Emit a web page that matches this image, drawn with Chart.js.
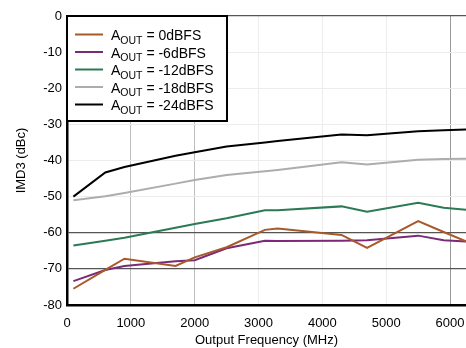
<!DOCTYPE html>
<html><head><meta charset="utf-8">
<script src="https://cdn.jsdelivr.net/npm/chart.js@4"></script>
<style>html,body{margin:0;padding:0;background:#fff}#wrap{width:466px;height:348px;position:relative}</style>
</head><body><div id="wrap"><canvas id="c" width="466" height="348"></canvas></div>
<script>
const frequencies = [100, 600, 900, 1700, 2000, 2500, 3100, 3300, 4300, 4700, 5500, 5900, 6250];
const imd3_0dBFS   = [-75.5, -70.3, -67.2, -69.2, -66.8, -64.0, -59.2, -58.8, -60.6, -64.2, -56.8, -59.8, -62.4];
const imd3_m6dBFS  = [-73.4, -70.3, -69.2, -67.9, -67.6, -64.3, -62.2, -62.3, -62.2, -62.1, -60.8, -62.1, -62.4];
const imd3_m12dBFS = [-63.5, -62.2, -61.4, -58.6, -57.6, -56.0, -53.8, -53.8, -52.7, -54.2, -51.7, -53.1, -53.6];
const imd3_m18dBFS = [-51.0, -49.9, -49.0, -46.4, -45.4, -44.0, -43.0, -42.6, -40.5, -41.1, -39.8, -39.6, -39.5];
const imd3_m24dBFS = [-50.0, -43.3, -41.8, -38.7, -37.7, -36.1, -35.0, -34.6, -32.8, -33.0, -31.9, -31.6, -31.4];
const seriesLabels = ['0dBFS', '-6dBFS', '-12dBFS', '-18dBFS', '-24dBFS'];
const xTickValues = [0, 1000, 2000, 3000, 4000, 5000, 6000];
const yTickValues = [0, -10, -20, -30, -40, -50, -60, -70, -80];

const seriesValues = [imd3_0dBFS, imd3_m6dBFS, imd3_m12dBFS, imd3_m18dBFS, imd3_m24dBFS];
const seriesColors = ['#a8592a', '#7a2a78', '#2b7a55', '#adadad', '#000000'];

const datasets = seriesValues.map((vals, i) => ({
  label: seriesLabels[i],
  data: frequencies.map((f, j) => ({x: f, y: vals[j]})),
  borderColor: seriesColors[i],
  backgroundColor: seriesColors[i],
  borderWidth: 2,
  pointRadius: 0,
  tension: 0,
  fill: false
}));

const legendPlugin = {
  id: 'boxLegend',
  afterDraw(chart) {
    const ctx = chart.ctx, a = chart.chartArea;
    const x0 = a.left, y0 = a.top, w = 160, h = 105;
    ctx.save();
    ctx.fillStyle = '#fff';
    ctx.fillRect(x0, y0, w, h);
    ctx.strokeStyle = '#000';
    ctx.lineWidth = 2;
    ctx.strokeRect(x0, y0, w, h);
    chart.data.datasets.forEach((ds, i) => {
      const y = y0 + 18.5 + i * 17.5;
      ctx.strokeStyle = ds.borderColor;
      ctx.lineWidth = 2;
      ctx.beginPath();
      ctx.moveTo(x0 + 8, y);
      ctx.lineTo(x0 + 36, y);
      ctx.stroke();
      ctx.fillStyle = '#000';
      ctx.textBaseline = 'alphabetic';
      ctx.font = '14px "Liberation Sans", Arial, sans-serif';
      let tx = x0 + 44;
      ctx.fillText('A', tx, y + 5.5);
      tx += ctx.measureText('A').width;
      ctx.font = '10.5px "Liberation Sans", Arial, sans-serif';
      ctx.fillText('OUT', tx, y + 9);
      tx += ctx.measureText('OUT').width;
      ctx.font = '14px "Liberation Sans", Arial, sans-serif';
      ctx.fillText(' = ' + ds.label, tx, y + 5.5);
    });
    ctx.restore();
  }
};

const font = {family: '"Liberation Sans", Arial, sans-serif', size: 13};

new Chart(document.getElementById('c'), {
  type: 'line',
  data: {datasets},
  options: {
    responsive: false,
    devicePixelRatio: 1,
    animation: false,
    layout: {padding: {top: 16, right: 0, left: 0, bottom: 0}},
    plugins: {legend: {display: false}, tooltip: {enabled: false}},
    scales: {
      x: {
        type: 'linear', min: 0, max: 6250,
        afterBuildTicks: s => { s.ticks = xTickValues.map(v => ({value: v})); },
        afterFit: s => { s.height = 43; s.paddingRight = 0; s.paddingLeft = 0; },
        ticks: {color: '#000', font, padding: 11, maxRotation: 0, callback: v => String(v)},
        grid: {
          drawTicks: false,
          color: c => { const v = c.tick && c.tick.value; if (v === 1000 || v === 2000) return '#bdbdbd'; if (v === 6000) return '#9a9a9a'; return '#ececec'; },
          lineWidth: 1
        },
        border: {color: '#000', width: 2.5},
        title: {display: true, text: 'Output Frequency (MHz)', color: '#000', font, padding: {top: 0, bottom: 0}}
      },
      y: {
        min: -80, max: 0,
        afterBuildTicks: s => { s.ticks = yTickValues.map(v => ({value: v})); },
        afterFit: s => { s.width = 67; },
        ticks: {color: '#000', font, padding: 5, callback: v => String(v)},
        grid: {
          drawTicks: false,
          color: c => { const v = c.tick && c.tick.value; if (v === -60 || v === -70) return '#555'; if (v === 0) return '#555'; return '#ececec'; },
          lineWidth: c => { const v = c.tick && c.tick.value; return (v === -60 || v === -70 || v === 0) ? 1.3 : 1; }
        },
        border: {color: '#000', width: 2.5},
        title: {display: true, text: 'IMD3 (dBc)', color: '#000', font, padding: {top: 14, bottom: 0}}
      }
    }
  },
  plugins: [legendPlugin]
});
</script>
</body></html>
